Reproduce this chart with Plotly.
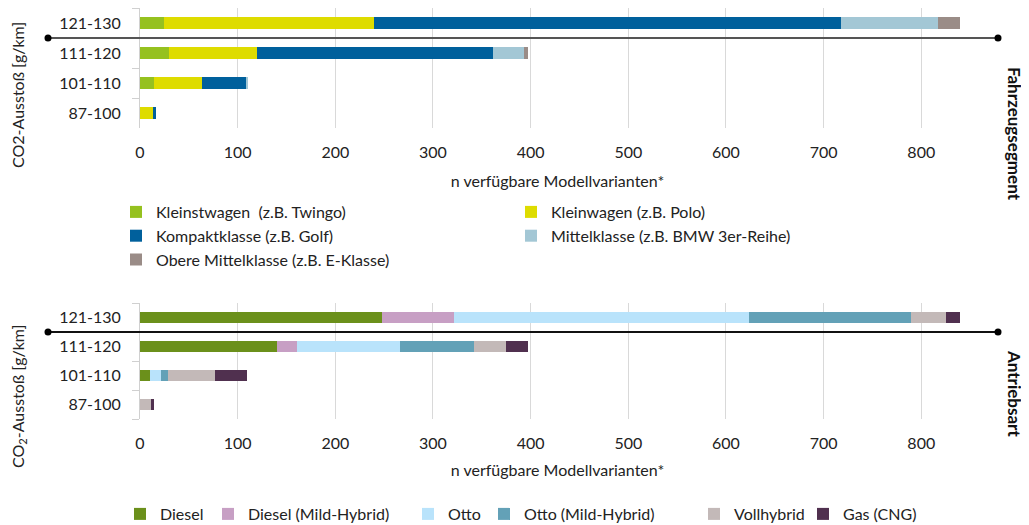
import plotly.graph_objects as go

# ---------------- data ----------------
categories = ["87-100", "101-110", "111-120", "121-130"]

seg_names = [
    "Kleinstwagen  (z.B. Twingo)",
    "Kleinwagen (z.B. Polo)",
    "Kompaktklasse (z.B. Golf)",
    "Mittelklasse (z.B. BMW 3er-Reihe)",
    "Obere Mittelklasse (z.B. E-Klasse)",
]
kleinstwagen = [0, 14, 30, 25]
kleinwagen = [14, 49, 90, 215]
kompaktklasse = [2, 46, 241, 478]
mittelklasse = [0, 2, 32, 99]
obere_mittelklasse = [0, 0, 4, 23]
seg_colors = ["#95C11F", "#DEDC00", "#00609C", "#A3C7D5", "#9A8C87"]

drive_names = ["Diesel", "Diesel (Mild-Hybrid)", "Otto", "Otto (Mild-Hybrid)", "Vollhybrid", "Gas (CNG)"]
diesel = [0, 10, 140, 248]
diesel_mh = [0, 0, 21, 74]
otto = [0, 11, 105, 302]
otto_mh = [0, 8, 76, 165]
vollhybrid = [11, 48, 33, 36]
gas = [3, 33, 22, 15]
drive_colors = ["#6B901B", "#C79FC4", "#B9E3FB", "#63A1B7", "#C3B9B8", "#50304F"]

x_title = "n verfügbare Modellvarianten*"
y_title_top = "CO2-Ausstoß [g/km]"
y_title_bottom = "CO<sub>2</sub>-Ausstoß [g/km]"
side_top = "<b>Fahrzeugsegment</b>"
side_bottom = "<b>Antriebsart</b>"

FONT = "Lato, 'Open Sans', sans-serif"

# the page body has an 8px margin, so the figure is placed at (8, 8) in the window
OFF = 8
W, H = 1029 - OFF, 525 - OFF
ML = 140 - OFF
MT = 8 - OFF
MR = W - (975 - OFF)
MB = H - (419 - OFF)
PW, PH = W - ML - MR, H - MT - MB


def px_x(p):
    """window x pixel -> paper fraction"""
    return (p - OFF - ML) / PW


def px_y(p):
    """window y pixel -> paper fraction"""
    return 1 - (p - OFF - MT) / PH


fig = go.Figure()

# legend assignment of the top chart: two columns (Excel-like layout)
seg_legends = ["legend", "legend2", "legend", "legend2", "legend"]
seg_values = [kleinstwagen, kleinwagen, kompaktklasse, mittelklasse, obere_mittelklasse]
for i, (name, vals, col, lg) in enumerate(zip(seg_names, seg_values, seg_colors, seg_legends)):
    fig.add_trace(go.Bar(
        y=categories, x=vals, name=name, orientation="h",
        marker=dict(color=col, line=dict(width=0)),
        xaxis="x", yaxis="y", legend=lg, legendgroup="s%d" % i,
    ))

drive_values = [diesel, diesel_mh, otto, otto_mh, vollhybrid, gas]
for i, (name, vals, col) in enumerate(zip(drive_names, drive_values, drive_colors)):
    fig.add_trace(go.Bar(
        y=categories, x=vals, name=name, orientation="h",
        marker=dict(color=col, line=dict(width=0)),
        xaxis="x2", yaxis="y2", legend="legend%d" % (i + 3),
    ))

xcommon = dict(
    range=[0, 855], dtick=100, tick0=0,
    showgrid=True, gridcolor="#D9D9D9", gridwidth=1,
    zeroline=False, showline=False, ticks="",
    tickfont=dict(size=16, color="#222222", family=FONT),
)
ycommon = dict(
    type="category", categoryorder="array", categoryarray=categories,
    showline=True, linecolor="#D0D0D0", linewidth=1,
    ticks="outside", tickson="boundaries", ticklen=7, tickcolor="#D0D0D0",
    showgrid=False, zeroline=False,
    tickfont=dict(size=16, color="#222222", family=FONT),
    ticklabelstandoff=15,
)

legend_common = dict(orientation="v", xanchor="left", yanchor="top",
                     traceorder="normal", tracegroupgap=1,
                     font=dict(size=16, family=FONT, color="#222222"),
                     bgcolor="rgba(0,0,0,0)")

layout_legends = {
    "legend": dict(x=px_x(116), y=px_y(195), **legend_common),
    "legend2": dict(x=px_x(511), y=px_y(195), **legend_common),
}
bottom_text_x = [157, 245, 445, 521, 731, 840]
for i, tx in enumerate(bottom_text_x):
    layout_legends["legend%d" % (i + 3)] = dict(x=px_x(tx - 37), y=px_y(497), **legend_common)

fig.update_layout(
    width=W, height=H,
    margin=dict(l=ML, r=MR, t=MT, b=MB, autoexpand=False),
    paper_bgcolor="white", plot_bgcolor="white",
    barmode="stack", bargap=0.6,
    font=dict(family=FONT, size=15, color="#222222"),
    xaxis=dict(domain=[0, 1], anchor="y", ticklabelstandoff=13,
               title=dict(text=x_title, standoff=15, font=dict(size=16)), **xcommon),
    yaxis=dict(domain=[px_y(128), 1], anchor="x", **ycommon),
    xaxis2=dict(domain=[0, 1], anchor="y2", ticklabelstandoff=13,
                title=dict(text=x_title, standoff=13, font=dict(size=16)), **xcommon),
    yaxis2=dict(domain=[0, px_y(303)], anchor="x2", **ycommon),
    showlegend=True,
    **layout_legends,
)

# separator lines with dots between 111-120 and 121-130
x_left, x_right = px_x(48), px_x(998)
for xr, yref, col in [("x domain", "y", "#555555"), ("x2 domain", "y2", "#111111")]:
    fig.add_shape(type="line", xref=xr, yref=yref,
                  x0=x_left, x1=x_right, y0=2.5, y1=2.5,
                  line=dict(color=col, width=1.8))
    for xx in (x_left, x_right):
        fig.add_shape(type="circle", xref=xr, yref=yref,
                      xsizemode="pixel", ysizemode="pixel", xanchor=xx, yanchor=2.5,
                      x0=-3.5, x1=3.5, y0=-3.5, y1=3.5,
                      fillcolor="#000000", line=dict(color="#000000", width=0))

# y-axis titles
fig.add_annotation(text=y_title_top, xref="paper", yref="paper",
                   x=px_x(18), y=px_y(95),
                   textangle=-90, showarrow=False, font=dict(size=16, family=FONT),
                   xanchor="center", yanchor="middle")
fig.add_annotation(text=y_title_bottom, xref="paper", yref="paper",
                   x=px_x(18), y=px_y(397),
                   textangle=-90, showarrow=False, font=dict(size=16, family=FONT),
                   xanchor="center", yanchor="middle")

# side labels
fig.add_annotation(text=side_top, xref="paper", yref="paper",
                   x=px_x(1015), y=px_y(134),
                   textangle=90, showarrow=False, font=dict(size=17, family=FONT, color="#111111"),
                   xanchor="center", yanchor="middle")
fig.add_annotation(text=side_bottom, xref="paper", yref="paper",
                   x=px_x(1015), y=px_y(393),
                   textangle=90, showarrow=False, font=dict(size=17, family=FONT, color="#111111"),
                   xanchor="center", yanchor="middle")

fig.write_html("out.html")
